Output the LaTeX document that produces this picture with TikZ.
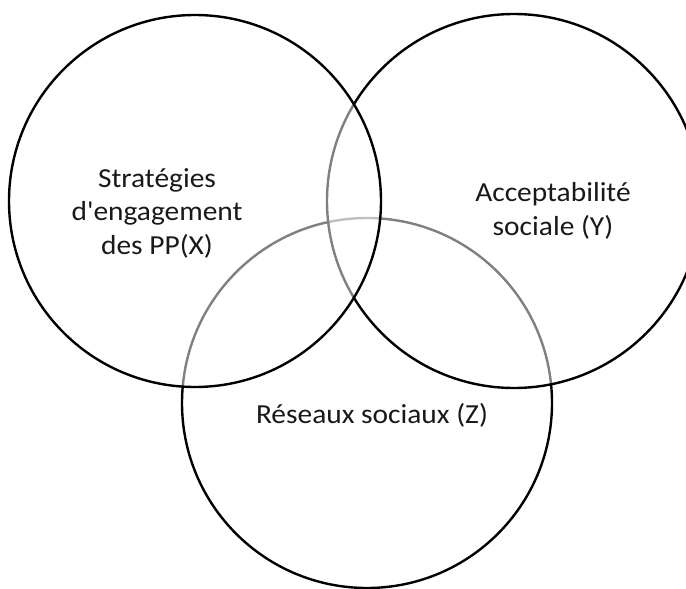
\documentclass[tikz,border=0pt]{standalone}
\usepackage{fontspec}
\setmainfont{Carlito}[Ligatures=TeXOff, FakeStretch=1.07]
\begin{document}
\begin{tikzpicture}[x=1pt,y=-1pt,
  venn/.style={circle, draw=black, line width=2.4pt, fill=white, fill opacity=0.5, draw opacity=1, inner sep=0pt, outer sep=0pt},
  label/.style={align=center, inner sep=0pt, font=\fontsize{27.5}{33.5}\selectfont, text=black!90}]
  \useasboundingbox (0,0) rectangle (686,589);
  \clip (0,0) rectangle (686,589);
  % drawn bottom-up: Z first, then Y, then X on top
  \node[venn, minimum size=370pt] (Z) at (367,403) {};
  \node[venn, minimum size=374pt] (Y) at (514,201) {};
  \node[venn, minimum size=372pt] (X) at (195,201) {};
  \node[label] (tx) at (157,213) {Stratégies\\d'engagement\\des PP(X)};
  \node[label] (ty) at (553,211) {Acceptabilité\\sociale (Y)};
  \node[label, anchor=base] (tz) at (372,423) {Réseaux sociaux (Z)};
\end{tikzpicture}
\end{document}
